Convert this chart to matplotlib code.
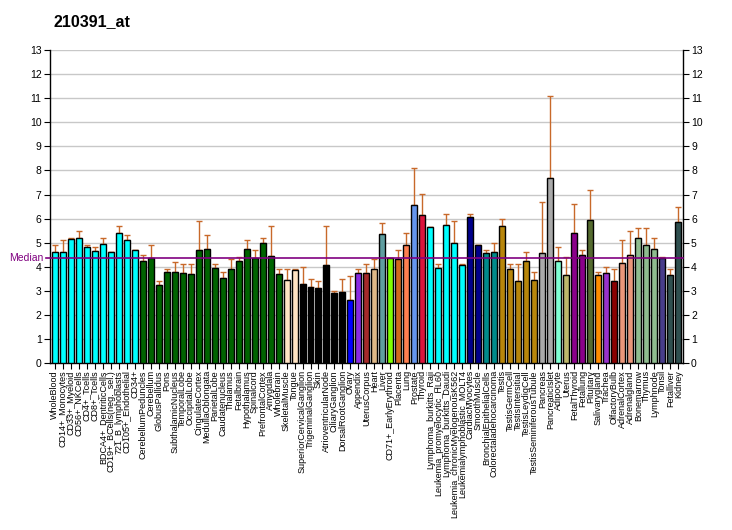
import matplotlib
matplotlib.use("Agg")
import matplotlib.pyplot as plt
import matplotlib.transforms as mtrans

plt.rcParams['font.family'] = ['Liberation Sans', 'DejaVu Sans']

title = "210391_at"
median_value = 4.37

labels = [
    "WholeBlood", "CD14+_Monocytes", "CD33+_Myeloid", "CD56+_NKCells", "CD4+_Tcells",
    "CD8+_Tcells", "BDCA4+_DentriticCells", "CD19+_BCells(neg._sel.)", "721_B_lymphoblasts",
    "CD105+_Endothelial", "CD34+", "CerebellumPeduncles", "Cerebellum", "GlobusPallidus",
    "Pons", "SubthalamicNucleus", "TemporalLobe", "OccipitalLobe", "CingulateCortex",
    "MedullaOblongata", "ParietalLobe", "Caudatenucleus", "Thalamus", "Fetalbrain",
    "Hypothalamus", "Spinalcord", "PrefrontalCortex", "Amygdala", "Wholebrain",
    "SkeletalMuscle", "Tongue", "SuperiorCervicalGanglion", "TrigeminalGanglion", "Skin",
    "AtrioventricularNode", "CiliaryGanglion", "DorsalRootGanglion", "Ovary", "Appendix",
    "UterusCorpus", "Heart", "Liver", "CD71+_EarlyErythroid", "Placenta", "Lung",
    "Prostate", "Thyroid", "Lymphoma_burkitts_Raji", "Leukemia_promyelocytic_HL60",
    "Lymphoma_burkitts_Daudi", "Leukemia_chronicMyelogenousK562",
    "Leukemialymphoblastic_MOLT4", "CardiacMyocytes", "SmoothMuscle",
    "BronchialEpithelialCells", "Colorectaladenocarcinoma", "Testis", "TestisGermCell",
    "TestisIntersitial", "TestisLeydigCell", "TestisSeminiferousTubule", "Pancreas",
    "PancreaticIslet", "Adipocyte", "Uterus", "FetalThyroid", "Fetallung", "Pituitary",
    "Salivarygland", "Trachea", "OlfactoryBulb", "AdrenalCortex", "Adrenalgland",
    "Bonemarrow", "Thymus", "Lymphnode", "Tonsil", "Fetalliver", "Kidney",
]

values = [
    4.62, 4.62, 5.17, 5.21, 4.83, 4.67, 4.97, 4.62, 5.39, 5.12, 4.71,
    4.26, 4.35, 3.25, 3.79, 3.79, 3.75, 3.71, 4.71, 4.75, 3.96, 3.54, 3.92, 4.25,
    4.75, 4.35, 5.00, 4.46, 3.71,
    3.46, 3.87,
    3.29, 3.17, 3.12, 4.08, 2.92, 2.96,
    2.62, 3.75, 3.73, 3.90, 5.35, 4.36, 4.32, 4.90, 6.56, 6.14,
    5.64, 3.94, 5.73, 4.98, 4.07,
    6.06, 4.90, 4.56, 4.61,
    5.68, 3.90, 3.40, 4.24, 3.45,
    4.57, 7.69, 4.24, 3.66, 5.40, 4.49, 5.94, 3.66, 3.74, 3.41,
    4.16, 4.49, 5.19, 4.90, 4.74, 4.36, 3.66, 5.86,
]

err_tops = [
    4.92, 5.11, 5.19, 5.48, 4.90, 4.83, 5.21, 4.62, 5.71, 5.33, 4.71,
    4.50, 4.92, 3.43, 3.92, 4.21, 4.12, 4.12, 5.92, 5.33, 4.12, 3.79, 4.33, 4.42,
    5.12, 4.71, 5.21, 5.71, 3.92,
    3.92, 3.92,
    4.00, 3.50, 3.42, 5.71, 3.00, 3.50,
    3.62, 3.92, 4.12, 4.32, 5.81, 4.37, 4.69, 5.39, 8.09, 7.01,
    5.66, 4.11, 6.18, 5.89, 4.11,
    6.18, 4.90, 4.69, 4.98,
    5.98, 4.11, 4.11, 4.61, 3.78,
    6.69, 11.11, 4.82, 4.40, 6.61, 4.70, 7.19, 3.78, 3.99, 3.91,
    5.11, 5.48, 5.61, 5.61, 5.19, 4.40, 3.91, 6.48,
]

colors = (
    ["#00FFFF"] * 11 + ["#006400"] * 18 + ["#FFE4C4"] * 2 + ["#000000"] * 6 +
    ["#0000FF", "#8A2BE2", "#A52A2A", "#DEB887", "#5F9EA0", "#7FFF00", "#D2691E",
     "#FF7F50", "#6495ED", "#DC143C"] +
    ["#00FFFF"] * 5 + ["#00008B"] * 2 + ["#008B8B"] * 2 + ["#B8860B"] * 5 +
    ["#A9A9A9"] * 2 + ["#7FFFD4", "#BDB76B", "#8B008B", "#8B008B", "#556B2F",
                       "#FF8C00", "#9932CC", "#8B0000", "#E9967A", "#E9967A"] +
    ["#8FBC8F"] * 3 + ["#483D8B", "#2F4F4F", "#2F4F4F"]
)

fig = plt.figure(figsize=(7.32, 5.30), dpi=100)
ax = fig.add_axes([50 / 732, 1 - 363.3 / 530, 632.7 / 732, 313.3 / 530])

x = list(range(len(values)))
ax.bar(x, values, width=0.75, color=colors, edgecolor="black", linewidth=1.0, zorder=3)

lower = [0] * len(values)
upper = [max(e - v, 0) for e, v in zip(err_tops, values)]
ax.errorbar(x, values, yerr=[lower, upper], fmt="none", ecolor="#C8692A",
            elinewidth=1.0, capsize=2.0, capthick=1.0, zorder=2)

ax.set_xlim(-0.58, 78.55)
ax.set_ylim(0, 13)
ax.set_yticks(range(0, 14))
ax.grid(axis="y", color="#C8C8C8", linewidth=1.0, zorder=0)
ax.set_axisbelow(True)

ax.spines["top"].set_visible(False)
for s in ("left", "right", "bottom"):
    ax.spines[s].set_color("black")
    ax.spines[s].set_linewidth(1.0)

ax.tick_params(axis="y", which="both", left=True, right=True, labelleft=True,
               labelright=True, direction="out", length=4, labelsize=7.5, pad=2)
ax.set_xticks(x)
ax.set_xticklabels(labels, rotation=90, fontsize=6.5)
ax.tick_params(axis="x", direction="out", length=4, pad=1)

# median line
trans = mtrans.blended_transform_factory(ax.transAxes, ax.transData)
ax.plot([-4 / 632.7, 1], [median_value, median_value], color="#800080",
        linewidth=1.2, transform=trans, clip_on=False, zorder=4)
ftrans = mtrans.blended_transform_factory(fig.transFigure, ax.transData)
ax.text(9 / 732, median_value, "Median", color="#800080", fontsize=7.5,
        va="center", ha="left", transform=ftrans)

fig.text(54 / 732, 1 - 22 / 530, title, fontsize=11.5, fontweight="bold",
         ha="left", va="center")

fig.savefig("out.png", dpi=100)
